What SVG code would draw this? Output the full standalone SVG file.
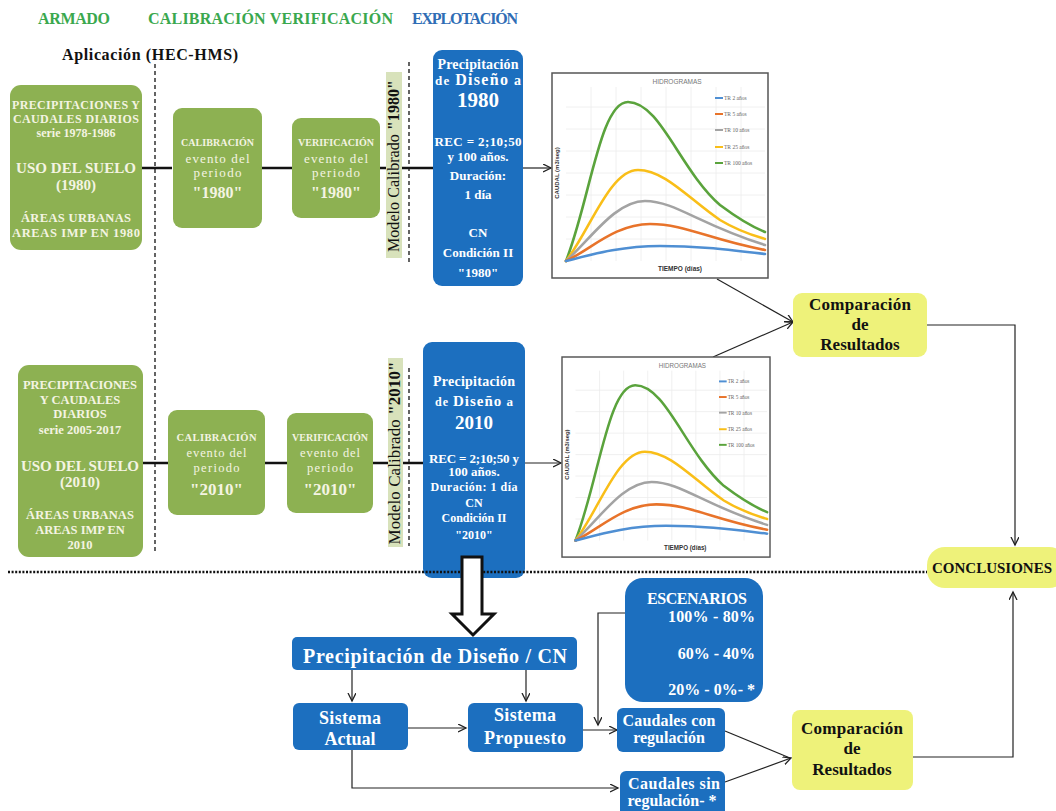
<svg xmlns="http://www.w3.org/2000/svg" width="1056" height="811" viewBox="0 0 1056 811">
<style>
text{font-family:"Liberation Serif",serif}
.gb{fill:#8db152}
.bb{fill:#1c6fbf}
.yb{fill:#eef27a}
.ct{fill:#f4f4e2;text-anchor:middle;font-weight:bold}
.cr{fill:#f4f4e2;text-anchor:middle}
.wt{fill:#fff;text-anchor:middle;font-weight:bold}
.kt{fill:#111;text-anchor:middle;font-weight:bold}
.thick{stroke:#111;stroke-width:2.5;fill:none}
.thin{stroke:#222;stroke-width:1.2;fill:none}
.arr{marker-end:url(#ah)}
.sans{font-family:"Liberation Sans",Arial,sans-serif}
</style>
<defs>
<marker id="ah" markerWidth="10" markerHeight="10" refX="8" refY="4" orient="auto" markerUnits="userSpaceOnUse">
<path d="M0,0 L8,4 L0,8" fill="none" stroke="#222" stroke-width="1.3"/>
</marker>
<g id="chart">
<rect x="0" y="0" width="216" height="205" fill="#fff" stroke="#555" stroke-width="1.5"/>
<g stroke="#ececec" stroke-width="0.8">
<path d="M39,14V188M64,14V188M89,14V188M114,14V188M139,14V188M164,14V188M189,14V188M14,166H213M14,144H213M14,122H213M14,100H213M14,78H213M14,56H213M14,34H213"/>
</g>
<text x="125" y="11" class="sans" font-size="6.5" fill="#777" text-anchor="middle">HIDROGRAMAS</text>
<text x="128" y="198" class="sans" font-size="6.5" font-weight="bold" fill="#333" text-anchor="middle">TIEMPO (días)</text>
<text transform="translate(7,100) rotate(-90)" class="sans" font-size="6" font-weight="bold" fill="#333" text-anchor="middle">CAUDAL (m3/seg)</text>
<g fill="none" stroke-width="2.6" stroke-linecap="round">
<path d="M14,188 C38,127 48,29 76,29 C108,29 128,97 168,132 C188,147 203,155 213,159" stroke="#5aa33c"/>
<path d="M14,188 C38,157 58,97 86,97 C113,97 138,127 168,147 C188,159 203,163 213,166" stroke="#f9be18"/>
<path d="M14,188 C38,167 63,128 93,128 C123,128 148,152 213,172" stroke="#a3a3a3"/>
<path d="M14,188 C38,177 63,151 98,151 C133,151 158,167 213,177" stroke="#e8732a"/>
<path d="M14,188 C38,182 68,173 108,173 C148,173 178,177 213,181" stroke="#4f8fd3"/>
</g>
<g stroke-width="2">
<path d="M163,25H171" stroke="#4f8fd3"/>
<path d="M163,41H171" stroke="#e8732a"/>
<path d="M163,57H171" stroke="#a3a3a3"/>
<path d="M163,74H171" stroke="#f9be18"/>
<path d="M163,90H171" stroke="#5aa33c"/>
</g>
<g class="sans" font-size="5.5" fill="#666">
<text x="172" y="27">TR 2 años</text>
<text x="172" y="43">TR 5 años</text>
<text x="172" y="59">TR 10 años</text>
<text x="172" y="76">TR 25 años</text>
<text x="172" y="92">TR 100 años</text>
</g>
</g>
</defs>
<rect width="1056" height="811" fill="#fff"/>

<g id="headers" font-weight="bold" font-size="16">
<text x="38" y="24" fill="#3aa84e" textLength="72">ARMADO</text>
<text x="148" y="24" fill="#3aa84e" textLength="245">CALIBRACIÓN VERIFICACIÓN</text>
<text x="412" y="24" fill="#2f6db5" textLength="106">EXPLOTACIÓN</text>
<text x="62" y="60" fill="#111" font-size="16" textLength="176">Aplicación (HEC-HMS)</text>
</g>

<g id="dividers">
<path d="M155,64V552" stroke="#111" stroke-width="1.3" stroke-dasharray="4 3" fill="none"/>
<path d="M409,62V262" stroke="#111" stroke-width="1.3" stroke-dasharray="4 3" fill="none"/>
<path d="M409,368V546" stroke="#111" stroke-width="1.3" stroke-dasharray="4 3" fill="none"/>
</g>

<g id="connectors">
<path class="thick" d="M142,168H172M262,168H292M380,168H433"/>
<path class="thick" d="M143,463H168M265,463H287M373,463H423"/>
<path class="thin arr" d="M523,168H551"/>
<path class="thin arr" d="M525,463H561"/>
<path class="thin arr" d="M717,279L793,322"/>
<path class="thin arr" d="M713,357L793,322"/>
<path class="thin arr" d="M927,325H1015V545"/>
<path class="thin arr" d="M913,757H1013V592"/>
<path class="thin arr" d="M352,670V701"/>
<path class="thin arr" d="M526,670V701"/>
<path class="thin arr" d="M408,728H466"/>
<path class="thin arr" d="M583,730H617"/>
<path class="thin arr" d="M625,613H598V725"/>
<path class="thin arr" d="M352,750V788H618"/>
<path class="thin" d="M725,731L790,758"/>
<path class="thin arr" d="M725,782L791,758"/>
</g>

<g id="datos-1980">
<rect x="10" y="85" width="132" height="165" rx="11" class="gb"/>
<text x="76" y="109" class="ct" font-size="12" textLength="128">PRECIPITACIONES Y</text>
<text x="76" y="123" class="ct" font-size="12" textLength="126">CAUDALES DIARIOS</text>
<text x="76" y="137" class="ct" font-size="12">serie 1978-1986</text>
<text x="76" y="173" class="ct" font-size="15" textLength="120">USO DEL SUELO</text>
<text x="76" y="190" class="ct" font-size="15">(1980)</text>
<text x="76" y="222" class="ct" font-size="12.5" textLength="110">ÁREAS URBANAS</text>
<text x="76" y="237" class="ct" font-size="12.5" textLength="128">AREAS IMP EN 1980</text>
</g>

<g id="calibracion-1980">
<rect x="173" y="108" width="89" height="120" rx="9" class="gb"/>
<text x="217.5" y="146" class="ct" font-size="10" textLength="73">CALIBRACIÓN</text>
<text x="217.5" y="163" class="cr" font-size="13" textLength="64">evento  del</text>
<text x="217.5" y="177" class="cr" font-size="13" textLength="48">periodo</text>
<text x="217.5" y="198" class="ct" font-size="16">"1980"</text>
</g>

<g id="verificacion-1980">
<rect x="292" y="118" width="88" height="100" rx="9" class="gb"/>
<text x="336" y="146" class="ct" font-size="10" textLength="76">VERIFICACIÓN</text>
<text x="336" y="163" class="cr" font-size="13" textLength="64">evento  del</text>
<text x="336" y="177" class="cr" font-size="13" textLength="48">periodo</text>
<text x="336" y="198" class="ct" font-size="16">"1980"</text>
</g>

<g id="modelo-1980">
<rect x="386" y="72" width="16" height="186" fill="#d8e2bb"/>
<text transform="translate(399,166) rotate(-90)" text-anchor="middle" font-size="16" fill="#111" textLength="172">Modelo Calibrado <tspan font-weight="bold">"1980"</tspan></text>
</g>

<g id="diseno-1980">
<rect x="433" y="50" width="90" height="236" rx="9" class="bb"/>
<text x="478" y="69" class="wt" font-size="14" textLength="81">Precipitación</text>
<text x="478" y="85" class="wt" textLength="86"><tspan font-size="13">de </tspan><tspan font-size="16">Diseño</tspan><tspan font-size="14"> a</tspan></text>
<text x="478" y="107" class="wt" font-size="21">1980</text>
<text x="478" y="146" class="wt" font-size="13" textLength="87">REC = 2;10;50</text>
<text x="478" y="161" class="wt" font-size="13">y 100 años.</text>
<text x="478" y="180" class="wt" font-size="13">Duración:</text>
<text x="478" y="199" class="wt" font-size="13">1 día</text>
<text x="478" y="237" class="wt" font-size="13">CN</text>
<text x="478" y="257" class="wt" font-size="13">Condición II</text>
<text x="478" y="277" class="wt" font-size="13">"1980"</text>
</g>

<g id="hidrograma-1980">
<use href="#chart" transform="translate(552,73)"/>
</g>

<g id="comparacion-1">
<rect x="793" y="293" width="134" height="64" rx="9" class="yb"/>
<text x="860" y="310" class="kt" font-size="17" textLength="102">Comparación</text>
<text x="860" y="330" class="kt" font-size="17">de</text>
<text x="860" y="350" class="kt" font-size="17">Resultados</text>
</g>

<g id="datos-2010">
<rect x="18" y="365" width="125" height="192" rx="11" class="gb"/>
<text x="80" y="389" class="ct" font-size="12.5" textLength="114">PRECIPITACIONES</text>
<text x="80" y="404" class="ct" font-size="12.5">Y CAUDALES</text>
<text x="80" y="418" class="ct" font-size="12.5">DIARIOS</text>
<text x="80" y="434" class="ct" font-size="12.5">serie 2005-2017</text>
<text x="80" y="471" class="ct" font-size="15" textLength="118">USO DEL SUELO</text>
<text x="80" y="487" class="ct" font-size="15">(2010)</text>
<text x="80" y="519" class="ct" font-size="12.5" textLength="108">ÁREAS URBANAS</text>
<text x="80" y="534" class="ct" font-size="12.5">AREAS IMP EN</text>
<text x="80" y="549" class="ct" font-size="12.5">2010</text>
</g>

<g id="calibracion-2010">
<rect x="168" y="410" width="97" height="105" rx="9" class="gb"/>
<text x="216.5" y="441" class="ct" font-size="10.5" textLength="80">CALIBRACIÓN</text>
<text x="216.5" y="457" class="cr" font-size="12.5" textLength="60">evento  del</text>
<text x="216.5" y="472" class="cr" font-size="12.5" textLength="46">periodo</text>
<text x="216.5" y="495" class="ct" font-size="17">"2010"</text>
</g>

<g id="verificacion-2010">
<rect x="287" y="413" width="86" height="100" rx="9" class="gb"/>
<text x="330" y="441" class="ct" font-size="10" textLength="76">VERIFICACIÓN</text>
<text x="330" y="457" class="cr" font-size="12.5" textLength="60">evento  del</text>
<text x="330" y="472" class="cr" font-size="12.5" textLength="46">periodo</text>
<text x="330" y="495" class="ct" font-size="17">"2010"</text>
</g>

<g id="modelo-2010">
<rect x="388" y="358" width="15" height="189" fill="#d8e2bb"/>
<text transform="translate(400,453) rotate(-90)" text-anchor="middle" font-size="17" fill="#111" textLength="183">Modelo Calibrado <tspan font-weight="bold">"2010"</tspan></text>
</g>

<g id="diseno-2010">
<rect x="423" y="342" width="102" height="236" rx="9" class="bb"/>
<text x="474" y="386" class="wt" font-size="14" textLength="82">Precipitación</text>
<text x="474" y="406" class="wt" textLength="78"><tspan font-size="12">de </tspan><tspan font-size="15">Diseño</tspan><tspan font-size="13"> a</tspan></text>
<text x="474" y="429" class="wt" font-size="19">2010</text>
<text x="474" y="463" class="wt" font-size="13" textLength="90">REC = 2;10;50 y</text>
<text x="474" y="476" class="wt" font-size="13">100 años.</text>
<text x="474" y="491" class="wt" font-size="12" textLength="87">Duración:  1 día</text>
<text x="474" y="507" class="wt" font-size="12">CN</text>
<text x="474" y="522" class="wt" font-size="12">Condición  II</text>
<text x="474" y="539" class="wt" font-size="12">"2010"</text>
</g>

<g id="hidrograma-2010">
<use href="#chart" transform="translate(562,357) scale(0.963,0.976)"/>
</g>

<g id="conclusiones">
<rect x="927" y="547" width="140" height="41" rx="18" class="yb"/>
<text x="992" y="573" class="kt" font-size="15" textLength="120">CONCLUSIONES</text>
</g>

<g id="separador">
<path d="M8,572H927" stroke="#111" stroke-width="2.5" stroke-dasharray="2 1.6" fill="none"/>
</g>

<g id="flecha-explotacion">
<polygon points="462,557 482,557 482,614 494,614 473,635 452,614 462,614" fill="#fff" stroke="#111" stroke-width="3" stroke-linejoin="miter"/>
</g>

<g id="precipitacion-cn">
<rect x="292" y="637" width="285" height="33" rx="5" class="bb"/>
<text x="435" y="663" class="wt" font-size="20" textLength="264">Precipitación de Diseño / CN</text>
</g>

<g id="sistema-actual">
<rect x="293" y="703" width="115" height="47" rx="6" class="bb"/>
<text x="350" y="724" class="wt" font-size="18" textLength="62">Sistema</text>
<text x="350" y="745" class="wt" font-size="18">Actual</text>
</g>

<g id="sistema-propuesto">
<rect x="468" y="703" width="115" height="49" rx="6" class="bb"/>
<text x="525" y="721" class="wt" font-size="18" textLength="62">Sistema</text>
<text x="525" y="744" class="wt" font-size="18" textLength="82">Propuesto</text>
</g>

<g id="escenarios">
<rect x="625" y="578" width="138" height="124" rx="18" class="bb"/>
<text x="697" y="604" class="wt" font-size="16" textLength="100">ESCENARIOS</text>
<text x="755" y="622" class="wt" font-size="16" style="text-anchor:end" textLength="87">100% - 80%</text>
<text x="755" y="659" class="wt" font-size="16" style="text-anchor:end">60% - 40%</text>
<text x="755" y="695" class="wt" font-size="16" style="text-anchor:end">20% - 0%- *</text>
</g>

<g id="caudales-con">
<rect x="617" y="708" width="108" height="44" rx="6" class="bb"/>
<text x="669" y="726" class="wt" font-size="16" textLength="93">Caudales con</text>
<text x="669" y="743" class="wt" font-size="16">regulación</text>
</g>

<g id="caudales-sin">
<rect x="620" y="771" width="105" height="48" rx="6" class="bb"/>
<text x="674" y="789" class="wt" font-size="16" textLength="92">Caudales sin</text>
<text x="672" y="806" class="wt" font-size="16">regulación- *</text>
</g>

<g id="comparacion-2">
<rect x="792" y="710" width="121" height="80" rx="8" class="yb"/>
<text x="852" y="734" class="kt" font-size="17" textLength="102">Comparación</text>
<text x="852" y="754" class="kt" font-size="17">de</text>
<text x="852" y="775" class="kt" font-size="17">Resultados</text>
</g>
</svg>
